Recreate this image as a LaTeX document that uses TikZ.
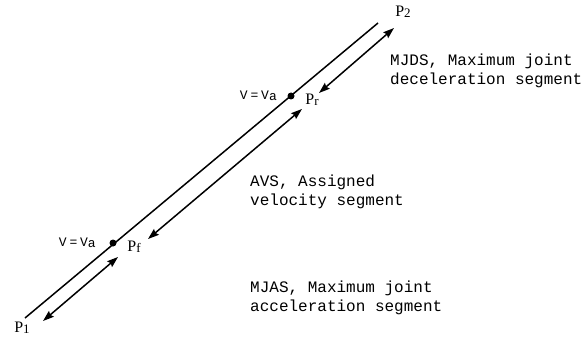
\documentclass[tikz,border=0pt]{standalone}
\usepackage{fontspec}
\setmainfont{Liberation Serif}
\newfontfamily\courfont{Liberation Mono}
\newfontfamily\courls[LetterSpace=22]{Liberation Mono}
\usetikzlibrary{arrows.meta}
\tikzset{
  seg/.style={line width=1.5pt},
  tip/.tip={Stealth[length=11pt,width=7.5pt,inset=1.5pt]},
  dbl/.style={line width=1.5pt,{tip}-{tip}},
  ptdot/.style={circle,fill=black,inner sep=0pt,minimum size=7pt},
  plabel/.style={inner sep=0pt,font=\fontsize{16}{16}\selectfont},
  vlabel/.style={inner sep=0pt,anchor=east,font=\courls\fontsize{13}{13}\selectfont},
  desc/.style={inner sep=0pt,anchor=west,align=left,font=\courfont\fontsize{16}{19}\selectfont},
}
\newcommand{\psub}[1]{\raisebox{-1.5pt}{\fontsize{13}{13}\selectfont #1}}
\begin{document}
\begin{tikzpicture}[x=1pt,y=-1pt]
\useasboundingbox (0,0) rectangle (586,342);
% main segment
\coordinate (A) at (25,318);
\coordinate (B) at (378,23);
\draw[seg] (A) -- (B);
% points
\node[ptdot] (df) at (113,243) {};
\node[ptdot] (dr) at (291,96) {};
% arrows
\coordinate (a1s) at (43,321);
\coordinate (a1e) at (118,257);
\coordinate (a2s) at (148,239);
\coordinate (a2e) at (302,109);
\coordinate (a3s) at (319,93);
\coordinate (a3e) at (394,28);
\draw[dbl] (a1s) -- (a1e);
\draw[dbl] (a2s) -- (a2e);
\draw[dbl] (a3s) -- (a3e);
% labels
\node[plabel] (p1) at (22,328) {P\psub{1}};
\node[plabel] (p2) at (403,12) {P\psub{2}};
\node[plabel] (pf) at (134,247) {P\psub{f}};
\node[plabel] (pr) at (312,100) {P\psub{r}};
\node[vlabel] (v1) at (96,243) {V=V\raisebox{-1pt}{a}};
\node[vlabel] (v2) at (277,96) {V=V\raisebox{-1pt}{a}};
% descriptions
\node[desc] (mjds) at (390,71) {MJDS, Maximum joint\\deceleration segment};
\node[desc] (avs) at (250,192) {AVS, Assigned\\velocity segment};
\node[desc] (mjas) at (250,298) {MJAS, Maximum joint\\acceleration segment};
\end{tikzpicture}
\end{document}
